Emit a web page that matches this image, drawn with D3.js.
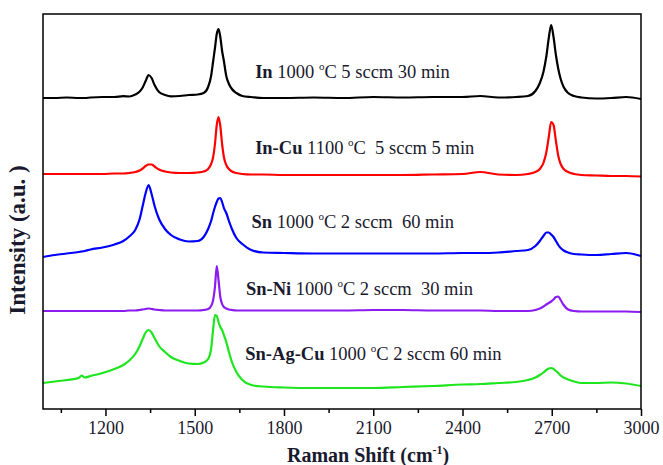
<!DOCTYPE html>
<html><head><meta charset="utf-8">
<script src="https://cdn.jsdelivr.net/npm/d3@7"></script>
<style>
body{margin:0;background:#fff;}
svg{display:block;font-family:"Liberation Serif","Times New Roman",serif;}
text{white-space:pre;}
</style></head>
<body><svg id="chart" width="663" height="465"></svg>
<script>
// Raman shift grid (cm^-1)
const shift = [990,1030,1070,1110,1120,1130,1150,1190,1230,1260,
  1280,1300,1315,1325,1335,1345,1355,1365,1380,1400,1420,1450,
  1480,1510,1530,
  1545,1555,1562,1568,1574,1580,1586,1592,1598,1606,1615,1625,1640,1660,1690,
  1730,1800,1900,2000,2100,2200,2300,2400,2460,2520,2580,
  2620,2645,2660,2672,2682,2690,2698,2706,2714,2722,2730,2740,2755,2775,2800,
  2850,2900,2950,3000];

// Intensities (a.u., stacked offsets included)
const inSeries = [311,311,311.5,311,311,311,311.5,312,312,312.8,
  312.5,314.5,317.5,321.5,328,334,331,324,317,314,312.6,313,
  314,314.5,316,
  322,333,348,361,375,380,372,358,348,333,325,320,316,313,312,
  311,311,311.5,311,312,311.5,312,312,313,311.5,312,
  313,318,326,337,353,371,384,372,354,340,330,322,316,313,311.5,
  310.5,311,312,310];

const inCuSeries = [235,235,235,235,235,235,235,235,235.5,235.5,
  236,237,238.5,240.5,243,244.5,244.5,242.5,239.5,237.5,236.5,236,
  236,236.5,237.5,
  240,245,252,265,284,292,283,265,252,244,240,237.5,236,235,234.5,
  234.5,234,234,234,234,234,234.5,235,237,234.5,234,
  235,237,240,246,257,272,287,284,268,253,245,240,237,235,234,
  233.5,233,233,232.5];

const snSeries = [152,154,155.5,157,157.5,158,159.5,161.5,164.5,168,
  172.5,179,190,203,216,224,215,203,190,180,174,169.5,
  167.5,168,172,
  180,188,196,202,207,210.5,211,207,201,196,188,180,171,165,159,
  156.5,156,155.5,155.5,155.5,155.5,155.5,156,156,156.5,158,
  159,163,168,173,176.5,176.5,174.5,172,168,164,161,158.5,156.5,155,154.5,
  154,155,156,153];

const snNiSeries = [98,98,98,98,98,98,98,98,98,98,
  98.5,98.5,99,99.5,100,100.5,100,99.5,99,98.5,98.5,98.5,
  98.5,98.5,99,
  100,103,109,122,143,129,112,105,102,100.5,99.5,99,98.5,98.5,98.5,
  98.5,98.5,98.5,98.5,99,99,98.5,98.5,98.5,98,98,
  98,99,100.5,102.5,104.5,106,107.5,109.5,112,112.5,109,104,99.5,98,97.5,
  97.5,97.5,97.5,97];

const snAgCuSeries = [26,27.5,29,31,33.5,31.5,33,36,40,44,
  48.5,55,63,70,76.5,79,76.5,71,63,57,52,48,
  45.5,45,46.5,
  50,60,80,94,93,87,82,79,74,67,57,47,37,29,24,
  22.5,21.5,21,21,21,22,23,24.5,25,26,27,
  29,31.5,34,36.5,39,40.5,41,40,38,36,33.5,31.5,29.5,27.5,26,
  26,26.5,25.5,23];

const sampleNames = ["In","In-Cu","Sn","Sn-Ni","Sn-Ag-Cu"];
const temps = ["1000","1100","1000","1000","1000"];
const conditions = ["C 5 sccm 30 min","C  5 sccm 5 min","C 2 sccm  60 min","C 2 sccm  30 min","C 2 sccm 60 min"];
const seriesList = [inSeries, inCuSeries, snSeries, snNiSeries, snAgCuSeries];
const colors = ["#000000","#ff0000","#0000ff","#8a1cf0","#1ee61e"];

const majorTicks = [1200,1500,1800,2100,2400,2700,3000];
const minorTicks = [1050,1350,1650,1950,2250,2550,2850];

// label anchor points (data units)
const labelShift = [1703,1703,1691,1672,1670];
const labelInt = [331,255,181,114,49];

// layout
const L = 43, R = 641, T = 14, B = 409;
const svg = d3.select("#chart");
const x = d3.scaleLinear().domain([990,3000]).range([L,R]);
const y = d3.scaleLinear().domain([0,395]).range([B,T]);

// lines
const line = d3.line().x(d=>x(d[0])).y(d=>y(d[1])).curve(d3.curveMonotoneX);
seriesList.forEach((s,i)=>{
  svg.append("path")
    .datum(shift.map((v,j)=>[v,s[j]]))
    .attr("d",line)
    .attr("fill","none")
    .attr("stroke",colors[i])
    .attr("stroke-width",2.2)
    .attr("stroke-linejoin","round");
});

// frame
svg.append("rect").attr("x",L).attr("y",T).attr("width",R-L).attr("height",B-T)
  .attr("fill","none").attr("stroke","#000").attr("stroke-width",1.5);

// x axis
const xAxis = d3.axisBottom(x).tickValues(majorTicks).tickSize(7).tickPadding(5).tickFormat(d3.format("d"));
const gx = svg.append("g").attr("transform",`translate(0,${B})`).call(xAxis);
gx.select(".domain").remove();
gx.selectAll(".tick line").attr("stroke","#000").attr("stroke-width",1.5);
gx.selectAll(".tick text").attr("font-size",18).attr("fill","#1a1a2e")
  .attr("font-family","Liberation Serif, serif");
const gm = svg.append("g").attr("transform",`translate(0,${B})`)
  .call(d3.axisBottom(x).tickValues(minorTicks).tickSize(4).tickFormat(""));
gm.select(".domain").remove();
gm.selectAll(".tick line").attr("stroke","#000").attr("stroke-width",1.5);

// axis titles
const xt = svg.append("text").attr("x",287).attr("y",462)
  .attr("font-size",20).attr("font-weight","bold").attr("fill","#1a1a2e");
xt.append("tspan").text("Raman Shift (cm");
xt.append("tspan").attr("font-size",12).attr("dy",-8).text("-1");
xt.append("tspan").attr("dy",8).text(")");

svg.append("text").attr("transform","translate(25,240) rotate(-90)")
  .attr("text-anchor","middle").attr("font-size",23).attr("font-weight","bold")
  .attr("fill","#1a1a2e").text("Intensity (a.u. )");

// sample labels
sampleNames.forEach((n,i)=>{
  const t = svg.append("text").attr("x",x(labelShift[i])).attr("y",y(labelInt[i]))
    .attr("font-size",18.5).attr("fill","#1a1a2e");
  t.append("tspan").attr("font-weight","bold").text(n);
  t.append("tspan").text(" " + temps[i] + " ");
  t.append("tspan").attr("font-size",11).attr("dy",-8.5).text("o");
  t.append("tspan").attr("dy",8.5).text(conditions[i]);
});
</script></body></html>
